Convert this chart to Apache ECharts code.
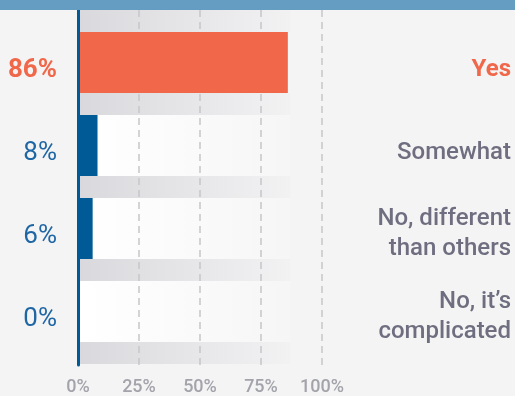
<!DOCTYPE html>
<html>
<head>
<meta charset="utf-8">
<script src="https://cdn.jsdelivr.net/npm/echarts@6/dist/echarts.min.js"></script>
<style>
html,body{margin:0;padding:0;background:#f4f4f4;}
#c{width:515px;height:396px;}
</style>
</head>
<body>
<div id="c"></div>
<script>
var categories = ['Yes', 'Somewhat', 'No, different\nthan others', 'No, it\u2019s\ncomplicated'];
var values = [86, 8, 6, 0];
var xTicks = [0, 25, 50, 75, 100];
var stripeSlots = ['s0', 's1', 's2', 's3', 's4'];
var backgroundExtent = 87;

var ORANGE = '#f0674a';
var BLUE = '#005a96';
var FONT = 'Roboto';

var barData = values.map(function (v, i) {
  var hi = i === 0;
  return {
    value: v,
    itemStyle: { color: hi ? ORANGE : BLUE },
    label: {
      color: hi ? ORANGE : '#1f66a4',
      fontWeight: hi ? 'bold' : 'normal'
    }
  };
});

var chart = echarts.init(document.getElementById('c'), null, { renderer: 'canvas' });
chart.setOption({
  backgroundColor: '#f4f4f4',
  animation: false,
  graphic: [{
    type: 'rect', left: 0, top: 0, z: 10,
    shape: { width: 515, height: 10 },
    style: { fill: '#659cc1' }
  }],
  grid: [
    { left: 78, right: 193, top: 10, bottom: 30 },
    { left: 78, right: 193, top: 21, bottom: 43 }
  ],
  xAxis: [
    {
      gridIndex: 0, type: 'value', min: xTicks[0], max: xTicks[xTicks.length - 1], interval: 25, z: 2,
      axisLine: { show: false }, axisTick: { show: false },
      splitLine: { show: true, lineStyle: { color: '#c6c6ca', width: 1.5, type: [7, 5] } },
      axisLabel: { formatter: '{value}%', color: '#a3a3ab', fontSize: 18, fontWeight: 500, fontFamily: FONT, margin: 13 }
    },
    {
      gridIndex: 1, type: 'value', min: xTicks[0], max: xTicks[xTicks.length - 1], show: false
    }
  ],
  yAxis: [
    {
      gridIndex: 0, type: 'category', data: categories, inverse: true, z: 4, offset: 1.5,
      axisLine: { show: true, lineStyle: { color: BLUE, width: 3 } },
      axisTick: { show: false }, axisLabel: { show: false }, splitLine: { show: false }
    },
    {
      gridIndex: 1, type: 'category', data: categories, inverse: true, position: 'right',
      axisLine: { show: false }, axisTick: { show: false }, splitLine: { show: false },
      axisLabel: {
        show: true, align: 'right', margin: 189,
        formatter: function (val, idx) {
          var lines = val.split('\n');
          var key = idx === 0 ? 'hi' : (lines.length > 1 ? 'n' : 'n1');
          return lines.map(function (l) { return '{' + key + '|' + l + '}'; }).join('\n');
        },
        rich: {
          hi: { color: ORANGE, fontWeight: 'bold', fontSize: 24, fontFamily: FONT, lineHeight: 30, align: 'right', padding: [15, 0, 0, 0] },
          n1: { color: '#6f6e80', fontWeight: 500, fontSize: 24, fontFamily: FONT, lineHeight: 30, align: 'right', padding: [15, 0, 0, 0] },
          n: { color: '#6f6e80', fontWeight: 500, fontSize: 24, fontFamily: FONT, lineHeight: 30, align: 'right', padding: [10, 0, 0, 0] }
        }
      }
    },
    {
      gridIndex: 1, type: 'category', data: stripeSlots, inverse: true, boundaryGap: false, show: false
    }
  ],
  series: [
    {
      name: 'stripes', type: 'bar', xAxisIndex: 1, yAxisIndex: 2, z: 1, silent: true, clip: false,
      barWidth: 22,
      data: stripeSlots.map(function () { return backgroundExtent; }),
      itemStyle: {
        color: new echarts.graphic.LinearGradient(0, 0, 1, 0, [
          { offset: 0, color: '#d9d9dd' },
          { offset: 1, color: '#f2f2f3' }
        ])
      }
    },
    {
      name: 'rows', type: 'bar', xAxisIndex: 1, yAxisIndex: 1, z: 1, silent: true,
      barWidth: 61, barGap: '-100%',
      data: categories.map(function () { return backgroundExtent; }),
      itemStyle: {
        color: new echarts.graphic.LinearGradient(0, 0, 1, 0, [
          { offset: 0, color: '#ffffff' },
          { offset: 1, color: '#f6f6f6' }
        ])
      }
    },
    {
      name: 'share', type: 'bar', xAxisIndex: 1, yAxisIndex: 1, z: 3,
      barWidth: 61, barGap: '-100%',
      data: barData,
      label: {
        show: true, position: 'left', distance: 21, offset: [0, 8],
        formatter: '{c}%', fontSize: 26, fontFamily: FONT
      }
    }
  ]
});
</script>
</body>
</html>
